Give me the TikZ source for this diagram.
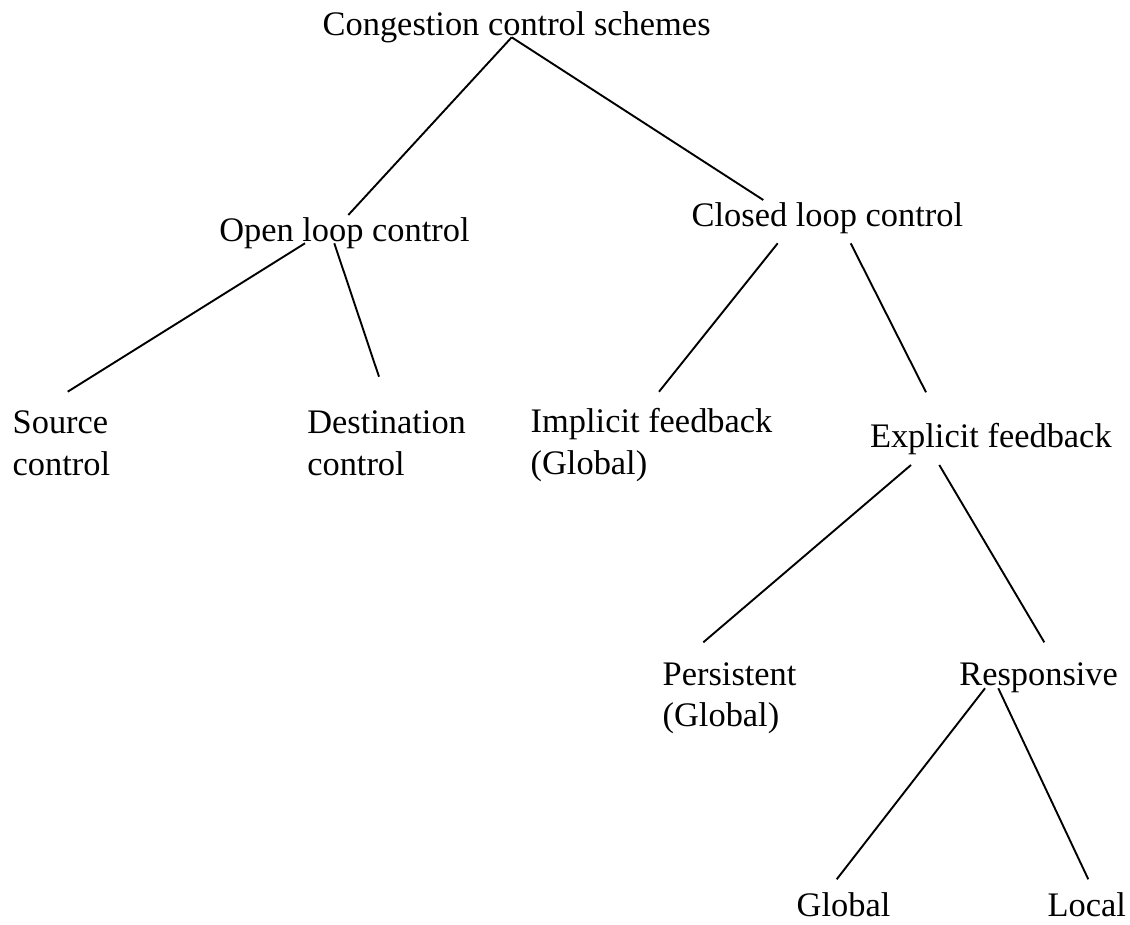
\documentclass[tikz,border=0pt]{standalone}
\usepackage{fontspec}
\setmainfont{Liberation Serif}
\begin{document}
\begin{tikzpicture}[x=1pt,y=-1pt,
  lbl/.style={anchor=base west,inner sep=0pt,outer sep=0pt,font=\fontsize{34.4}{41.7}\selectfont},
  branch/.style={line width=1.9pt,line cap=butt}]
\useasboundingbox (0,0) rectangle (1130,924);
\node[lbl] (top) at (322.7,35) {Congestion control schemes};
\node[lbl] (open) at (219.3,241.7) {Open loop control};
\node[lbl] (closed) at (691.7,226.7) {Closed loop control};
\node[lbl] (src) at (12.7,433.3) {\begin{tabular}[t]{@{}l@{}}Source\\control\end{tabular}};
\node[lbl] (dst) at (307.3,433.3) {\begin{tabular}[t]{@{}l@{}}Destination\\control\end{tabular}};
\node[lbl] (impl) at (530.7,432.7) {\begin{tabular}[t]{@{}l@{}}Implicit feedback\\(Global)\end{tabular}};
\node[lbl] (expl) at (870,447.5) {Explicit feedback};
\node[lbl] (pers) at (662.7,685) {\begin{tabular}[t]{@{}l@{}}Persistent\\(Global)\end{tabular}};
\node[lbl] (resp) at (959.3,685) {Responsive};
\node[lbl] (glob) at (796.7,916) {Global};
\node[lbl] (local) at (1047.7,916) {Local};
\draw[branch] ([shift={(189,2.3)}]top.base west) -- ([shift={(129,-26.7)}]open.base west);
\draw[branch] ([shift={(189,2.3)}]top.base west) -- ([shift={(71.6,-26.7)}]closed.base west);
\draw[branch] ([shift={(85.7,1.6)}]open.base west) -- ([shift={(55,-41.6)}]src.base west);
\draw[branch] ([shift={(115,1.6)}]open.base west) -- ([shift={(71.7,-56.6)}]dst.base west);
\draw[branch] ([shift={(86,16.6)}]closed.base west) -- ([shift={(128.3,-41)}]impl.base west);
\draw[branch] ([shift={(159,16.6)}]closed.base west) -- ([shift={(56,-55.2)}]expl.base west);
\draw[branch] ([shift={(41,17.5)}]expl.base west) -- ([shift={(40.6,-42.7)}]pers.base west);
\draw[branch] ([shift={(69.3,17.5)}]expl.base west) -- ([shift={(85,-42.7)}]resp.base west);
\draw[branch] ([shift={(25.7,3.3)}]resp.base west) -- ([shift={(40,-36.7)}]glob.base west);
\draw[branch] ([shift={(39,3.3)}]resp.base west) -- ([shift={(40.6,-36.7)}]local.base west);
\end{tikzpicture}
\end{document}
